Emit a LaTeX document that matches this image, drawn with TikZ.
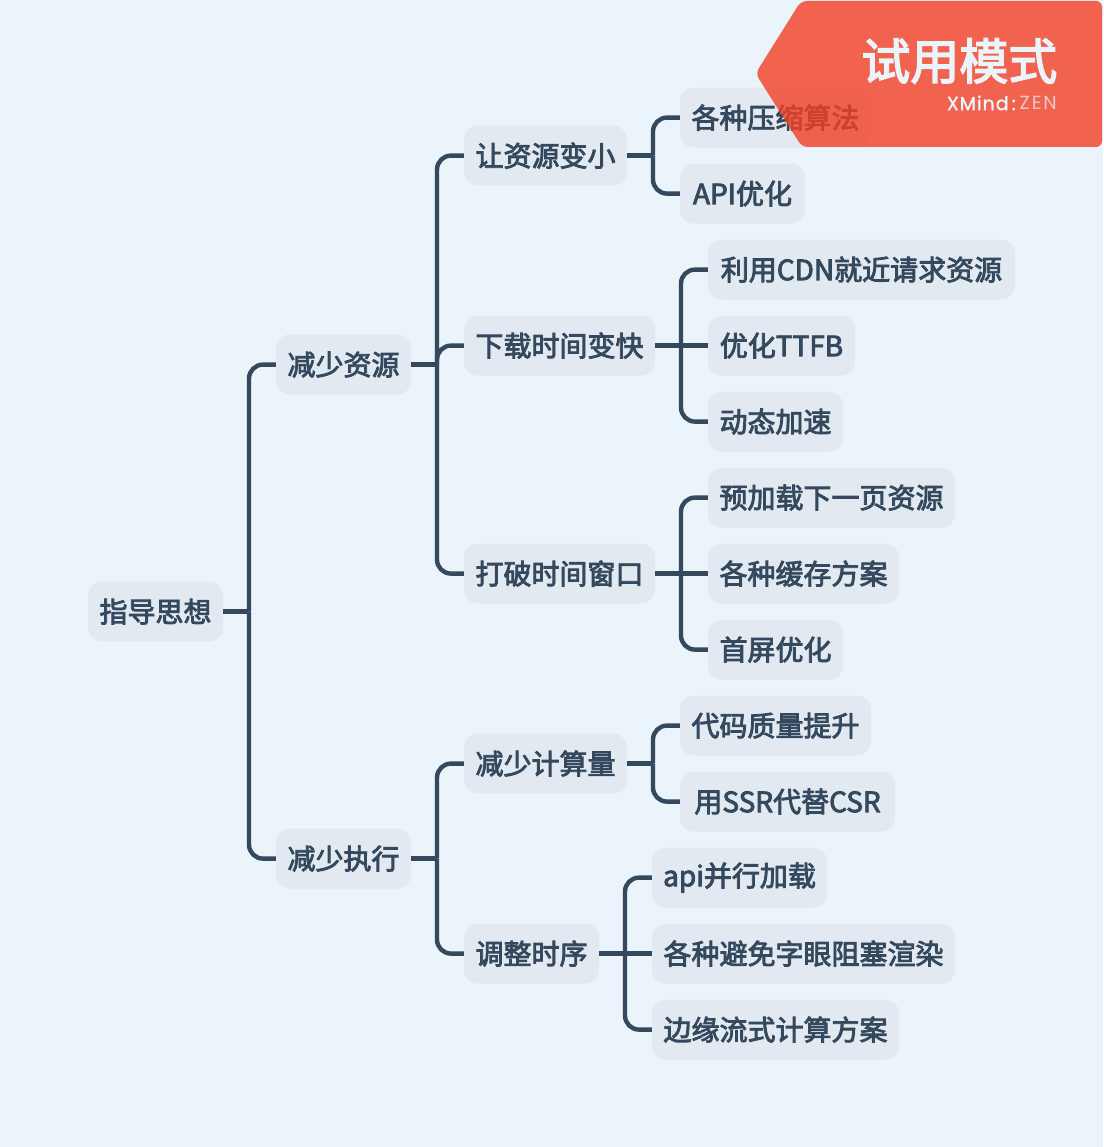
\documentclass[tikz,border=0pt]{standalone}
\usepackage{fontspec}
\setmainfont{Noto Sans CJK SC}[FakeBold=3]
\newfontfamily\wmfont{Poppins}[FakeBold=1.5,LetterSpace=5]
\newfontfamily\wmlight{Poppins}[LetterSpace=10]
\newfontfamily\wmcjk{Noto Sans CJK SC}[FakeBold=3]
\definecolor{bgc}{HTML}{EBF3FB}
\definecolor{nodec}{HTML}{E2E9F1}
\definecolor{ink}{HTML}{34495E}
\definecolor{bannerc}{HTML}{F43F24}
\tikzset{
  topic/.style={fill=nodec,rounded corners=14,minimum height=60,inner sep=0,text=ink,font=\fontsize{28}{32}\selectfont,anchor=center},
  conn/.style={draw=ink,line width=4.4,rounded corners=14},
}
\begin{document}
\begin{tikzpicture}[x=1pt,y=-1pt]
\fill[bgc] (0,0) rectangle (1103,1147);
\useasboundingbox (0,0) rectangle (1103,1147);
\begin{scope}[yshift=-0.6pt]
\node[topic,minimum width=135] (root) at (155.5,611) {指导思想};
\node[topic,minimum width=135] (a) at (343.5,364) {减少资源};
\node[topic,minimum width=135] (b) at (343.5,858) {减少执行};
\node[topic,minimum width=163] (a1) at (545.5,155) {让资源变小};
\node[topic,minimum width=191] (a2) at (559.5,345) {下载时间变快};
\node[topic,minimum width=191] (a3) at (559.5,573) {打破时间窗口};
\node[topic,minimum width=163] (b1) at (545.5,763) {减少计算量};
\node[topic,minimum width=135] (b2) at (531.5,953) {调整时序};
\node[topic,minimum width=191] (a11) at (775.5,117) {各种压缩算法};
\node[topic,minimum width=125] (a12) at (742.5,193) {API优化};
\node[topic,minimum width=307] (a21) at (861.5,269) {利用CDN就近请求资源};
\node[topic,minimum width=147] (a22) at (781.5,345) {优化TTFB};
\node[topic,minimum width=135] (a23) at (775.5,421) {动态加速};
\node[topic,minimum width=247] (a31) at (831.5,497) {预加载下一页资源};
\node[topic,minimum width=191] (a32) at (803.5,573) {各种缓存方案};
\node[topic,minimum width=135] (a33) at (775.5,649) {首屏优化};
\node[topic,minimum width=191] (b11) at (775.5,725) {代码质量提升};
\node[topic,minimum width=215] (b12) at (787.5,801) {用SSR代替CSR};
\node[topic,minimum width=175] (b21) at (739.5,877) {api并行加载};
\node[topic,minimum width=303] (b22) at (803.5,953) {各种避免字眼阻塞渲染};
\node[topic,minimum width=247] (b23) at (775.5,1029) {边缘流式计算方案};
\coordinate (t0) at (249,611);
\coordinate (ta) at (437,364);
\coordinate (tb) at (437,858);
\coordinate (ta1) at (653,155);
\coordinate (ta2) at (681,345);
\coordinate (ta3) at (681,573);
\coordinate (tb1) at (653,763);
\coordinate (tb2) at (625,953);
\draw[conn] (root.east) -- (t0);
\draw[conn] (t0) |- (a.west);
\draw[conn] (t0) |- (b.west);
\draw[conn] (a.east) -- (ta);
\draw[conn] (ta) |- (a1.west);
\draw[conn] (ta) |- (a2.west);
\draw[conn] (ta) |- (a3.west);
\draw[conn] (b.east) -- (tb);
\draw[conn] (tb) |- (b1.west);
\draw[conn] (tb) |- (b2.west);
\draw[conn] (a1.east) -- (ta1);
\draw[conn] (ta1) |- (a11.west);
\draw[conn] (ta1) |- (a12.west);
\draw[conn] (a2.east) -- (a22.west);
\draw[conn] (ta2) |- (a21.west);
\draw[conn] (ta2) |- (a23.west);
\draw[conn] (a3.east) -- (a32.west);
\draw[conn] (ta3) |- (a31.west);
\draw[conn] (ta3) |- (a33.west);
\draw[conn] (b1.east) -- (tb1);
\draw[conn] (tb1) |- (b11.west);
\draw[conn] (tb1) |- (b12.west);
\draw[conn] (b2.east) -- (b22.west);
\draw[conn] (tb2) |- (b21.west);
\draw[conn] (tb2) |- (b23.west);
\end{scope}
\fill[bannerc,opacity=.8,rounded corners=6] (801,1) -- (1102,1) -- (1102,147) -- (802,147) -- (755.5,73.5) -- cycle;
\node[inner sep=0,anchor=east,text=bgc,font=\wmcjk\fontsize{49}{52}\selectfont] (wm) at (1057.5,61) {试用模式};
\node[inner sep=0,anchor=east,text=bgc,font=\wmfont\fontsize{19}{20}\selectfont] (wm2) at (1016,103) {XMind\,:};
\node[inner sep=0,anchor=east,text=bgc!75!bannerc,font=\wmlight\fontsize{19}{20}\selectfont] (wm3) at (1057,103) {ZEN};
\end{tikzpicture}
\end{document}
